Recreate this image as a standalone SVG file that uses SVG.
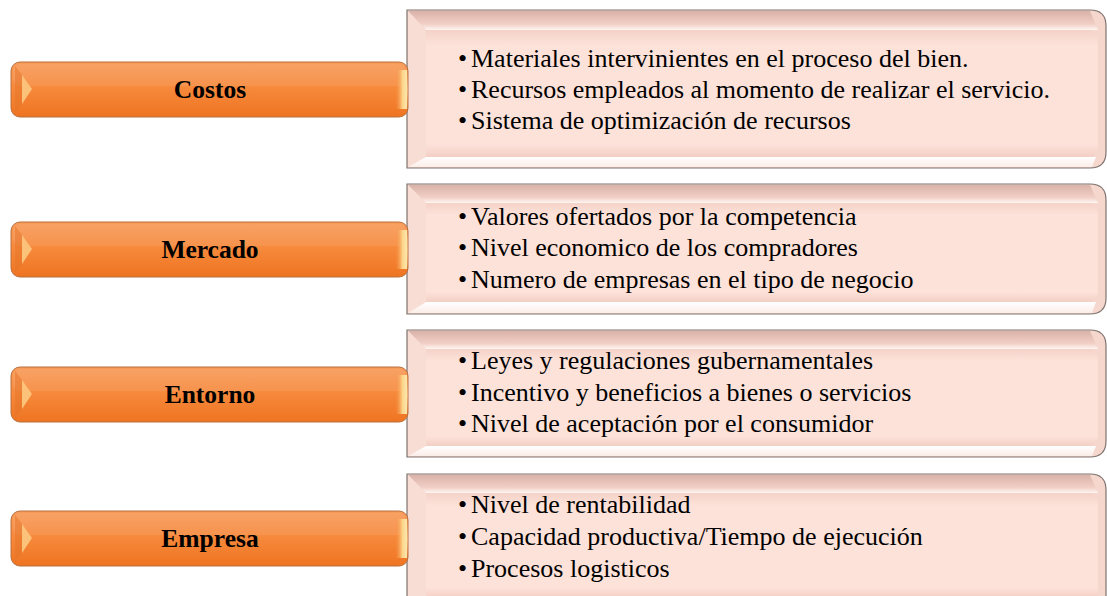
<svg xmlns="http://www.w3.org/2000/svg" width="1107" height="596" viewBox="0 0 1107 596" font-family="Liberation Serif, Times New Roman, serif">
<defs>
  <linearGradient id="og" x1="0" y1="0" x2="0" y2="1">
    <stop offset="0" stop-color="#F89B5A"/>
    <stop offset="0.5" stop-color="#F6883A"/>
    <stop offset="1" stop-color="#EE7421"/>
  </linearGradient>
  <linearGradient id="oy" x1="0" y1="0" x2="1" y2="0">
    <stop offset="0" stop-color="#F68B3D" stop-opacity="0"/>
    <stop offset="0.6" stop-color="#FCD48A"/>
    <stop offset="1" stop-color="#FDE9B0"/>
  </linearGradient>
  <linearGradient id="topb" x1="0" y1="0" x2="0" y2="1">
    <stop offset="0" stop-color="#D9B2A9"/>
    <stop offset="0.7" stop-color="#F2D0C7"/>
    <stop offset="1" stop-color="#FFF6F2"/>
  </linearGradient>
  <linearGradient id="botb" x1="0" y1="0" x2="0" y2="1">
    <stop offset="0" stop-color="#FFFFFF"/>
    <stop offset="1" stop-color="#FBEDE8"/>
  </linearGradient>
  <linearGradient id="inner" x1="0" y1="0" x2="0" y2="1">
    <stop offset="0" stop-color="#F4D2C8"/>
    <stop offset="0.12" stop-color="#FDE2D9"/>
    <stop offset="0.9" stop-color="#FDE2D9"/>
    <stop offset="1" stop-color="#F3CFC5"/>
  </linearGradient>
  <g id="bar">
    <rect x="0" y="0" width="397" height="55" rx="9" fill="url(#og)" stroke="#B8703F" stroke-width="1"/>
    <rect x="2" y="2" width="393" height="22" rx="7" fill="#FFFFFF" opacity="0.08"/>
    <polygon points="11,13 21,27 11,42" fill="#FCC27A"/>
    <polygon points="4,4 11,13 11,42 4,51" fill="#E4732A" opacity="0.5"/>
    <path d="M385,8 Q383,27.5 385,47 L396,47 Q397,27.5 396,8 Z" fill="url(#oy)"/>
  </g>
</defs>
<style>
  .lbl{font-family:"Liberation Serif",serif;font-weight:bold;font-size:25.5px;fill:#000;text-anchor:middle}
  .itm{font-family:"Liberation Serif",serif;font-size:26px;fill:#000}
  .outer{fill:#F6D7CE;stroke:#7E7470;stroke-width:1.2}
  .tb{fill:url(#topb)}
  .lb{fill:#F8DDD5}
  .bb{fill:url(#botb)}
  .in{fill:url(#inner)}
</style>
<rect width="1107" height="596" fill="#FFFFFF"/>

<g id="box-costos">
  <path class="outer" d="M407,10 H1090 Q1106,10 1106,26 V152 Q1106,168 1090,168 H407 Z"/>
  <polygon class="tb" points="408,11 1090,11 1098,30 426,30"/>
  <polygon class="lb" points="408,11 426,30 426,157 408,167"/>
  <polygon class="bb" points="426,157 1096,157 1092,167 408,167"/>
  <path class="in" d="M426,30 H1086 Q1098,30 1098,42 V147 Q1098,157 1088,157 H426 Z"/>
  <text class="itm" x="458" y="67">•</text><text class="itm" x="471" y="67">Materiales intervinientes en el proceso del bien.</text>
  <text class="itm" x="458" y="98">•</text><text class="itm" x="471" y="98">Recursos empleados al momento de realizar el servicio.</text>
  <text class="itm" x="458" y="129">•</text><text class="itm" x="471" y="129">Sistema de optimización de recursos</text>
</g>

<g id="box-mercado">
  <path class="outer" d="M407,184 H1090 Q1106,184 1106,200 V298 Q1106,314 1090,314 H407 Z"/>
  <polygon class="tb" points="408,185 1090,185 1098,203 426,203"/>
  <polygon class="lb" points="408,185 426,203 426,302 408,313"/>
  <polygon class="bb" points="426,302 1096,302 1092,313 408,313"/>
  <path class="in" d="M426,203 H1086 Q1098,203 1098,215 V292 Q1098,302 1088,302 H426 Z"/>
  <text class="itm" x="458" y="225">•</text><text class="itm" x="471" y="225">Valores ofertados por la competencia</text>
  <text class="itm" x="458" y="256">•</text><text class="itm" x="471" y="256">Nivel economico de los compradores</text>
  <text class="itm" x="458" y="288">•</text><text class="itm" x="471" y="288">Numero de empresas en el tipo de negocio</text>
</g>

<g id="box-entorno">
  <path class="outer" d="M407,330 H1090 Q1106,330 1106,346 V441 Q1106,457 1090,457 H407 Z"/>
  <polygon class="tb" points="408,331 1090,331 1098,349 426,349"/>
  <polygon class="lb" points="408,331 426,349 426,446 408,456"/>
  <polygon class="bb" points="426,446 1096,446 1092,456 408,456"/>
  <path class="in" d="M426,349 H1086 Q1098,349 1098,361 V436 Q1098,446 1088,446 H426 Z"/>
  <text class="itm" x="458" y="369">•</text><text class="itm" x="471" y="369">Leyes y regulaciones gubernamentales</text>
  <text class="itm" x="458" y="401">•</text><text class="itm" x="471" y="401">Incentivo y beneficios a bienes o servicios</text>
  <text class="itm" x="458" y="432">•</text><text class="itm" x="471" y="432">Nivel de aceptación por el consumidor</text>
</g>

<g id="box-empresa">
  <path class="outer" d="M407,474 H1090 Q1106,474 1106,490 V598 L407,598 Z"/>
  <polygon class="tb" points="408,475 1090,475 1098,493 426,493"/>
  <polygon class="lb" points="408,475 426,493 426,598 408,598"/>
  <path class="in" d="M426,493 H1086 Q1098,493 1098,505 V598 H426 Z"/>
  <text class="itm" x="458" y="513">•</text><text class="itm" x="471" y="513">Nivel de rentabilidad</text>
  <text class="itm" x="458" y="545">•</text><text class="itm" x="471" y="545">Capacidad productiva/Tiempo de ejecución</text>
  <text class="itm" x="458" y="577">•</text><text class="itm" x="471" y="577">Procesos logisticos</text>
</g>

<g id="node-costos">
  <use href="#bar" x="11" y="62"/>
  <text class="lbl" x="210" y="98">Costos</text>
</g>
<g id="node-mercado">
  <use href="#bar" x="11" y="222"/>
  <text class="lbl" x="210" y="258">Mercado</text>
</g>
<g id="node-entorno">
  <use href="#bar" x="11" y="367"/>
  <text class="lbl" x="210" y="403">Entorno</text>
</g>
<g id="node-empresa">
  <use href="#bar" x="11" y="511"/>
  <text class="lbl" x="210" y="547">Empresa</text>
</g>
<g id="connectors"></g>
</svg>
